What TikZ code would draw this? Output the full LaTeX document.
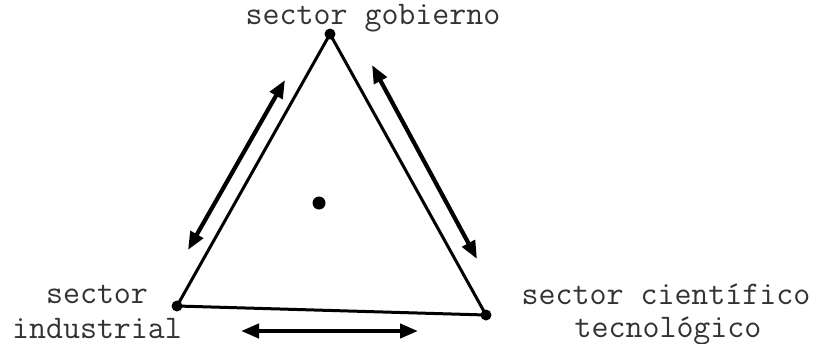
\documentclass[tikz,border=0pt]{standalone}
\usetikzlibrary{arrows.meta,positioning}
\tikzset{
  vert/.style={circle,fill=black,inner sep=0pt,minimum size=5.5pt},
  lab/.style={font=\ttfamily\fontsize{16.5}{19}\selectfont,inner sep=0pt,anchor=base,text=black!80},
  side/.style={line width=1.5pt,line cap=round,line join=round},
  flow/.style={{Triangle[length=9pt,width=7pt]}-{Triangle[length=9pt,width=7pt]},line width=2.1pt},
}

\begin{document}
\begin{tikzpicture}[x=0.5pt,y=-0.5pt]
  \useasboundingbox (0,0) rectangle (819,343);
  % sectores
  \node[vert] (gob) at (330,34) {};
  \node[vert] (ind) at (177,306) {};
  \node[vert] (cie) at (486,315) {};
  \node[vert,minimum size=6.5pt] (mid) at (319,203) {};
  \draw[side] (gob.center) -- (ind.center) -- (cie.center) -- cycle;
  % textos
  \node[lab] (tgob) at (373,24) {sector gobierno};
  \node[lab] (tind1) at (97,303) {sector};
  \node[lab] (tind2) at (97,338) {industrial};
  \node[lab] (tcie1) at (666,304) {sector científico};
  \node[lab] (tcie2) at (668,337) {tecnológico};
  % flechas
  \coordinate (l1) at (188,250);
  \coordinate (l2) at (285,80);
  \coordinate (r1) at (372,65);
  \coordinate (r2) at (477,259);
  \coordinate (b1) at (241,331);
  \coordinate (b2) at (418,331);
  \draw[flow] (l1) -- (l2);
  \draw[flow] (r1) -- (r2);
  \draw[flow] (b1) -- (b2);
\end{tikzpicture}
\end{document}
